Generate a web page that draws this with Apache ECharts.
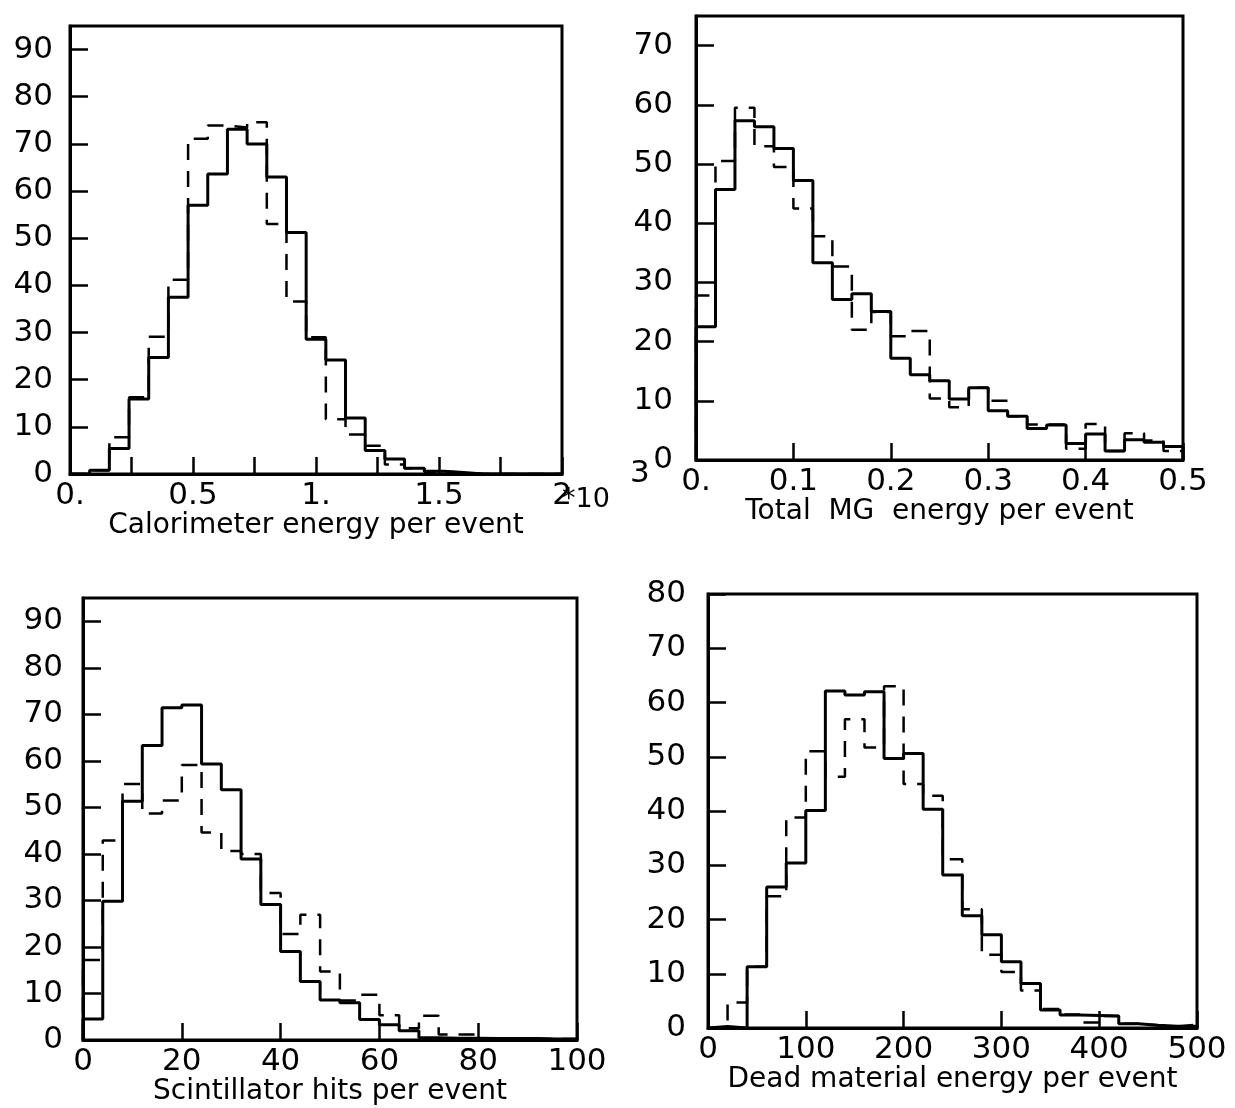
<!DOCTYPE html>
<html>
<head>
<meta charset="utf-8">
<script src="https://cdn.jsdelivr.net/npm/echarts@6/dist/echarts.min.js"></script>
<style>
  html, body { margin: 0; padding: 0; background: #fff; }
  #main { width: 1235px; height: 1108px; }
</style>
</head>
<body>
<div id="main"></div>
<script>
// bins: 25 per histogram
const calEdges = { start: 0, width: 0.08 };
const calSolid = [0, 0.8, 5.4, 15.9, 24.7, 37.5, 57, 63.6, 73.1, 70, 63, 51.2, 28.6, 24.2, 11.9, 5.0, 3.2, 1.2, 0.6, 0.3, 0, 0, 0, 0, 0];
const calDashed = [0, 0.8, 7.8, 16.3, 29.1, 41.2, 71.1, 73.9, 73.5, 74.6, 53, 36.6, 29, 11.6, 8.4, 6, 2, 1.2, 0.5, 0.3, 0, 0, 0, 0, 0];

const mgEdges = { start: 0, width: 0.02 };
const mgSolid = [22.5, 45.7, 57.3, 56.3, 52.6, 47.2, 33.3, 27.1, 28.1, 25.1, 17.2, 14.4, 13.4, 10.3, 12.2, 8.3, 7.4, 5.3, 5.9, 2.8, 4.4, 1.5, 3.4, 3.0, 2.3];
const mgDashed = [27.8, 50.5, 59.5, 53, 49.5, 42.5, 37.8, 32.7, 22, 25, 20.9, 21.8, 10.4, 8.9, 12.2, 10.0, 7.4, 6.0, 6.0, 1.9, 6.1, 1.5, 4.5, 3.3, 1.5];

const scEdges = { start: 0, width: 4 };
const scSolid = [4.5, 29.8, 51.3, 63.3, 71.4, 72.0, 59.3, 53.8, 38.9, 29.1, 19.0, 12.6, 8.6, 8.0, 4.4, 3.3, 2.0, 0.5, 0.4, 0.4, 0.3, 0.3, 0.3, 0.2, 0.2];
const scDashed = [17.2, 42.9, 55, 48.7, 51.5, 59.1, 44.6, 40.6, 40, 31.6, 22.8, 26.9, 14.7, 8.5, 9.7, 5.3, 2.5, 5.2, 1.2, 1.2, 0.3, 0.2, 0.2, 0.2, 0.2];

const dmEdges = { start: 0, width: 20 };
const dmSolid = [0.3, 0, 11.3, 26.0, 30.4, 40.1, 62.1, 61.4, 62.0, 49.7, 50.6, 40.3, 28.2, 20.7, 17.2, 12.2, 8.2, 3.3, 2.4, 2.3, 2.2, 0.8, 0.5, 0.3, 0.3];
const dmDashed = [0, 4.7, 11.3, 24.3, 38.8, 51.0, 46.3, 56.9, 51.7, 63.0, 45.0, 42.8, 31.1, 21.9, 13.5, 10.3, 6.9, 3.5, 2.5, 1.0, 2.2, 0.8, 0.5, 0.3, 0.6];

const FONT = 'DejaVu Sans';

function histData(edges, values) {
    let pts = [[edges.start, 0]];
    values.forEach((v, i) => pts.push([edges.start + i * edges.width, v]));
    let end = edges.start + values.length * edges.width;
    pts.push([end, values[values.length - 1]]);
    pts.push([end, 0]);
    return pts;
}

function labelCal(v) {
    if (Math.abs(v * 2 - Math.round(v * 2)) > 1e-6) return '';
    if (v === 0) return '0.';
    if (v === 1) return '1.';
    if (v === 2) return '2';
    return String(v);
}
function labelMg(v) {
    if (v === 0) return '0.';
    return String(+v.toFixed(1));
}
function labelY(v) {
    return Math.abs(v % 10) < 1e-6 ? String(v) : '';
}

const panels = [
    { grid: { left: 70, top: 26, width: 492, height: 448 }, x: [0, 2, 0.25, labelCal], y: [0, 95], name: 'Calorimeter energy per event', gap: 32, edges: calEdges, solid: calSolid, dashed: calDashed, ym: 17 },
    { grid: { left: 696, top: 16, width: 487, height: 444 }, x: [0, 0.5, 0.1, labelMg], y: [0, 75], name: 'Total  MG  energy per event', gap: 38, edges: mgEdges, solid: mgSolid, dashed: mgDashed, ym: 23 },
    { grid: { left: 83, top: 598, width: 494, height: 442 }, x: [0, 100, 20, v => String(v)], y: [0, 95], name: 'Scintillator hits per event', gap: 35, edges: scEdges, solid: scSolid, dashed: scDashed, ym: 20 },
    { grid: { left: 708, top: 594, width: 489, height: 434 }, x: [0, 500, 100, v => String(v)], y: [0, 80], name: 'Dead material energy per event', gap: 35, edges: dmEdges, solid: dmSolid, dashed: dmDashed, ym: 22 }
];

let chart = echarts.init(document.getElementById('main'), null, { renderer: 'canvas' });

let option = {
    backgroundColor: '#fff',
    animation: false,
    grid: panels.map(p => Object.assign({
        show: true, borderColor: '#000', borderWidth: 3, backgroundColor: 'transparent',
        containLabel: false, outerBoundsMode: 'none'
    }, p.grid)),
    xAxis: panels.map((p, i) => ({
        gridIndex: i, type: 'value',
        min: p.x[0], max: p.x[1], interval: p.x[2],
        axisLine: { onZero: false, lineStyle: { color: '#000', width: 3 } },
        axisTick: { inside: true, length: 17, lineStyle: { color: '#000', width: 2.5 } },
        axisLabel: { formatter: p.x[3], color: '#000', fontSize: 31, fontFamily: FONT, margin: 6, hideOverlap: false },
        splitLine: { show: false },
        name: p.name, nameLocation: 'middle', nameGap: p.gap,
        nameTextStyle: { color: '#000', fontSize: 28, fontFamily: FONT }
    })),
    yAxis: panels.map((p, i) => ({
        gridIndex: i, type: 'value',
        min: p.y[0], max: p.y[1], interval: 10,
        axisLine: { onZero: false, lineStyle: { color: '#000', width: 3 } },
        axisTick: { inside: true, length: 18, lineStyle: { color: '#000', width: 2.5 } },
        axisLabel: { formatter: labelY, color: '#000', fontSize: 31, fontFamily: FONT, margin: p.ym, showMaxLabel: p.y[1] % 10 === 0, hideOverlap: false },
        splitLine: { show: false }
    })),
    series: [],
    graphic: [
        { type: 'text', left: 562, top: 486, style: { text: '*10', fontSize: 27, fontFamily: FONT, fill: '#000' } },
        { type: 'text', left: 630, top: 458, style: { text: '3', fontSize: 31, fontFamily: FONT, fill: '#000' } }
    ]
};

panels.forEach((p, i) => {
    option.series.push({
        type: 'line', xAxisIndex: i, yAxisIndex: i, step: 'end', symbol: 'none', silent: true, z: 2,
        lineStyle: { color: '#000', width: 2.5, type: [16, 11] },
        data: histData(p.edges, p.dashed)
    });
    option.series.push({
        type: 'line', xAxisIndex: i, yAxisIndex: i, step: 'end', symbol: 'none', silent: true, z: 3,
        lineStyle: { color: '#000', width: 3 },
        data: histData(p.edges, p.solid)
    });
});

chart.setOption(option);
</script>
</body>
</html>
